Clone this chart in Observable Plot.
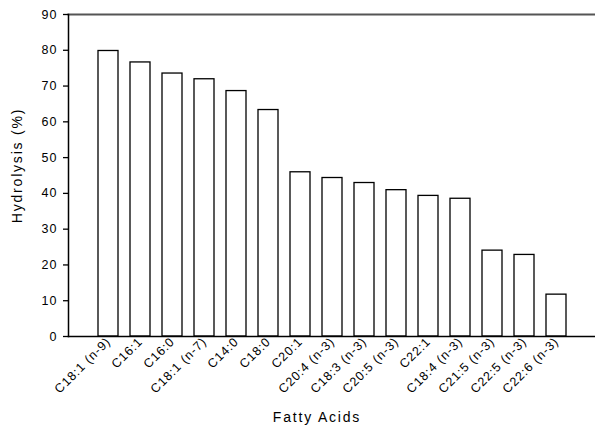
<!DOCTYPE html>
<html>
<head>
<meta charset="utf-8">
<script src="https://cdn.jsdelivr.net/npm/d3@7"></script>
<script src="https://cdn.jsdelivr.net/npm/@observablehq/plot@0.6"></script>
<style>
  html, body { margin: 0; padding: 0; background: #fff; }
  #chart svg { display: block; font-family: "Liberation Sans", Arial, sans-serif; }
  #chart svg g[aria-label="y-axis tick label"] text { letter-spacing: 1px; }
  #chart svg g[aria-label="x-axis tick label"] text { letter-spacing: 0.9px; }
  #chart svg g[aria-label="text"] text { letter-spacing: 1.8px; }
</style>
</head>
<body>
<div id="chart"></div>
<script>
const acids = ["C18:1 (n-9)", "C16:1", "C16:0", "C18:1 (n-7)", "C14:0", "C18:0", "C20:1", "C20:4 (n-3)", "C18:3 (n-3)", "C20:5 (n-3)", "C22:1", "C18:4 (n-3)", "C21:5 (n-3)", "C22:5 (n-3)", "C22:6 (n-3)"];
const hydrolysis = [79.8, 76.6, 73.5, 71.9, 68.6, 63.3, 45.9, 44.3, 42.9, 40.9, 39.3, 38.5, 24.0, 22.8, 11.7];
const yTicks = [0, 10, 20, 30, 40, 50, 60, 70, 80, 90];
const xTitle = "Fatty Acids";
const yTitle = "Hydrolysis (%)";

const data = acids.map((a, i) => ({acid: a, value: hydrolysis[i]}));

const chart = Plot.plot({
  width: 595,
  height: 428,
  marginLeft: 68,
  marginRight: 0,
  marginTop: 14,
  marginBottom: 92,
  style: {fontFamily: "'Liberation Sans', Arial, sans-serif", background: "#fff", color: "#000"},
  x: {domain: acids, paddingInner: 0.39, paddingOuter: 0.72, axis: null},
  y: {domain: [0, 90], axis: null},
  marks: [
    Plot.barY(data, {x: "acid", y: "value", fill: "#fff", stroke: "#000", strokeWidth: 1.3}),
    Plot.frame({anchor: "top", stroke: "#555", strokeWidth: 2}),
    Plot.frame({anchor: "left", stroke: "#000", strokeWidth: 1.5}),
    Plot.frame({anchor: "bottom", stroke: "#000", strokeWidth: 1.5}),
    Plot.axisY({ticks: yTicks, tickSize: 5, tickPadding: 6, label: null, fontSize: 12.5, stroke: "#000", strokeWidth: 1.3}),
    Plot.axisX({tickSize: 0, tickPadding: 3, tickRotate: -45, label: null, fontSize: 12.5}),
    Plot.text([xTitle], {frameAnchor: "bottom", textAnchor: "middle", lineAnchor: "middle", dx: -15, dy: 81, fontSize: 14, fill: "#000"}),
    Plot.text([yTitle], {frameAnchor: "left", textAnchor: "middle", lineAnchor: "middle", dx: -51, dy: -10, rotate: -90, fontSize: 14, fill: "#000"})
  ]
});
document.getElementById("chart").appendChild(chart);
</script>
</body>
</html>
